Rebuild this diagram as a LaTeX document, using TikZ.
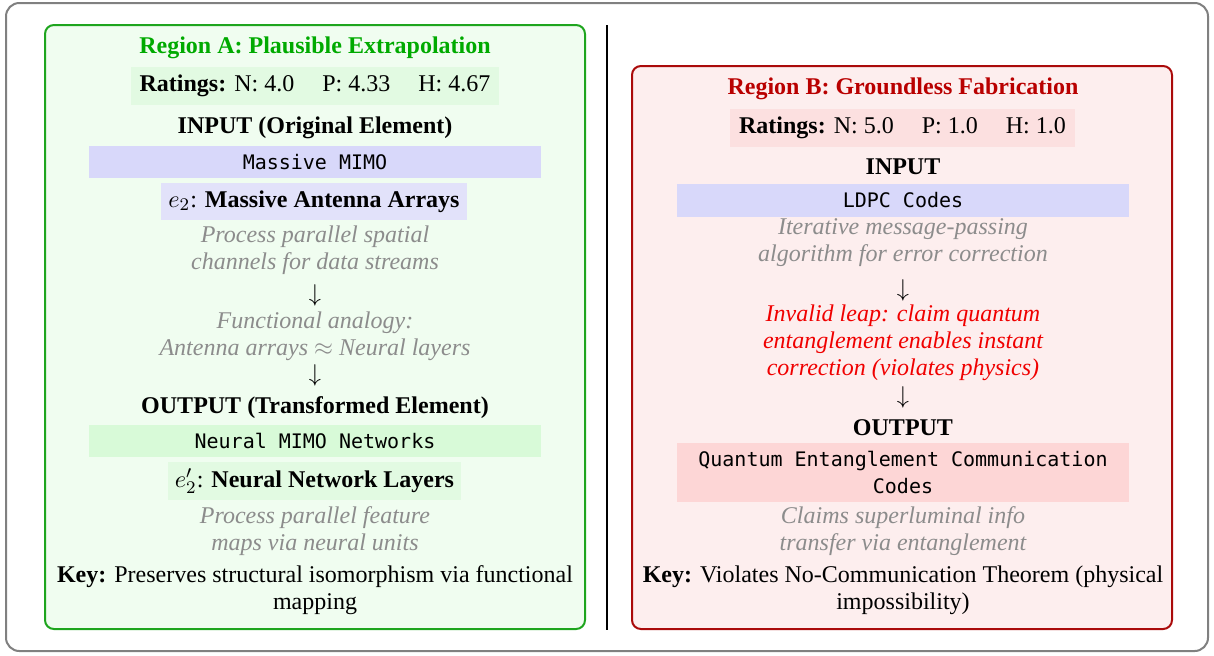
\documentclass[tikz,border=0pt]{standalone}
\usepackage{fontspec}
\setmainfont{Liberation Serif}
\setmonofont[Scale=0.833]{DejaVu Sans Mono}
\newcommand\diagfont{\fontsize{10.8}{12.2}\selectfont}
\newcommand\rgap{\hspace{12.6pt}}
\definecolor{outerline}{RGB}{128,128,128}
\definecolor{gA}{RGB}{30,165,30}
\definecolor{gAtitle}{RGB}{0,170,0}
\definecolor{gAbg}{RGB}{240,253,240}
\definecolor{gAbox}{RGB}{226,250,226}
\definecolor{gAout}{RGB}{216,250,216}
\definecolor{rB}{RGB}{170,10,10}
\definecolor{rBtitle}{RGB}{185,0,0}
\definecolor{rBbg}{RGB}{253,238,238}
\definecolor{rBbox}{RGB}{252,224,224}
\definecolor{rBout}{RGB}{253,214,214}
\definecolor{lav}{RGB}{216,216,250}
\definecolor{lavlight}{RGB}{226,226,250}
\definecolor{note}{RGB}{140,140,140}
\definecolor{leap}{RGB}{240,0,0}
\tikzset{
  panelA/.style={draw=gA, fill=gAbg, line width=0.9pt, rounded corners=4pt},
  panelB/.style={draw=rB, fill=rBbg, line width=0.9pt, rounded corners=4pt},
  txt/.style={align=center, inner sep=0pt, font=\diagfont},
  ttl/.style={txt, font=\diagfont\bfseries},
  notetxt/.style={txt, text=note, font=\diagfont\itshape},
  fbox/.style={inner sep=0pt, align=center, font=\diagfont},
  arrowglyph/.style={inner sep=0pt, font=\diagfont},
}
\begin{document}
\begin{tikzpicture}[x=0.45pt, y=-0.45pt, font=\diagfont]
\useasboundingbox (0,0) rectangle (1214,655);
\draw[outerline, line width=0.9pt, rounded corners=6pt] (6,3) rectangle (1208,651);
\draw[panelA] (45,25) rectangle (585,629);
\draw[panelB] (632,66) rectangle (1172,629);
\draw[line width=0.9pt] (607,25) -- (607,630);

% Region A
\node[ttl, text=gAtitle] (tA) at (315,48) {Region A: Plausible Extrapolation};
\node[fbox, fill=gAbox, minimum width=165.6pt, minimum height=17.1pt] (rA) at (315,86) {\textbf{Ratings:} N: 4.0\rgap P: 4.33\rgap H: 4.67};
\node[ttl] (inA) at (315,128) {INPUT (Original Element)};
\node[fbox, fill=lav, minimum width=203.4pt, minimum height=14.4pt] (mA) at (315,162) {\texttt{Massive MIMO}};
\node[fbox, fill=lavlight, minimum width=137.7pt, minimum height=16.7pt] (eA) at (314,201.5) {$e_2$: \textbf{Massive Antenna Arrays}};
\node[notetxt] (nA1) at (315,250) {Process parallel spatial\\channels for data streams};
\node[arrowglyph] (a1) at (315,295) {$\downarrow$};
\node[notetxt] (nA2) at (315,336) {Functional analogy:\\Antenna arrays $\approx$ Neural layers};
\node[arrowglyph] (a2) at (315,375) {$\downarrow$};
\node[ttl] (outA) at (315,408) {OUTPUT (Transformed Element)};
\node[fbox, fill=gAout, minimum width=203.4pt, minimum height=14.4pt] (mA2) at (315,441) {\texttt{Neural MIMO Networks}};
\node[fbox, fill=gAbox, minimum width=131.9pt, minimum height=17.1pt] (eA2) at (314.5,481) {$e_2'$: \textbf{Neural Network Layers}};
\node[notetxt] (nA3) at (315,531) {Process parallel feature\\maps via neural units};
\node[txt] (kA) at (315,590) {\textbf{Key:} Preserves structural isomorphism via functional\\mapping};

% Region B
\node[ttl, text=rBtitle] (tB) at (903,89) {Region B: Groundless Fabrication};
\node[fbox, fill=rBbox, minimum width=155.3pt, minimum height=17.1pt] (rB) at (902.5,128) {\textbf{Ratings:} N: 5.0\rgap P: 1.0\rgap H: 1.0};
\node[ttl] (inB) at (903,167) {INPUT};
\node[fbox, fill=lav, minimum width=203.4pt, minimum height=14.8pt] (mB) at (903,200.5) {\texttt{LDPC Codes}};
\node[notetxt] (nB1) at (903,243) {Iterative message-passing\\algorithm for error correction};
\node[arrowglyph] (b1) at (903,290) {$\downarrow$};
\node[txt, text=leap, font=\diagfont\itshape] (nB2) at (903,342.5) {Invalid leap: claim quantum\\entanglement enables instant\\correction (violates physics)};
\node[arrowglyph] (b2) at (903,397) {$\downarrow$};
\node[ttl] (outB) at (903,428) {OUTPUT};
\node[fbox, fill=rBout, minimum width=203.4pt, minimum height=26.6pt] (mB2) at (903,472.5) {\texttt{Quantum Entanglement Communication}\\\texttt{Codes}};
\node[notetxt] (nB3) at (903,531) {Claims superluminal info\\transfer via entanglement};
\node[txt] (kB) at (903,590) {\textbf{Key:} Violates No-Communication Theorem (physical\\impossibility)};
\end{tikzpicture}
\end{document}
